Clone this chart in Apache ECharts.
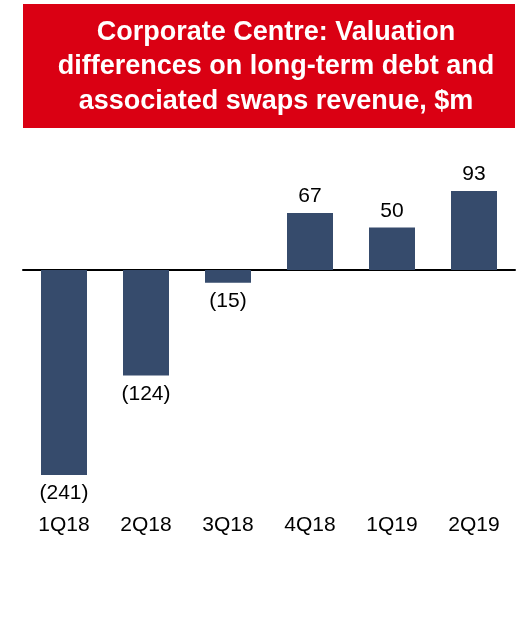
<!DOCTYPE html>
<html>
<head>
<meta charset="utf-8">
<script src="https://cdn.jsdelivr.net/npm/echarts@6/dist/echarts.min.js"></script>
<style>
  html, body { margin: 0; padding: 0; background: #fff; }
  #chart { width: 517px; height: 627px; }
</style>
</head>
<body>
<div id="chart"></div>
<script>
const TITLE = 'Corporate Centre: Valuation\ndifferences on long-term debt and\nassociated swaps revenue, $m';
const quarters = ['1Q18', '2Q18', '3Q18', '4Q18', '1Q19', '2Q19'];
const revenue = [-241, -124, -15, 67, 50, 93];

const BAR_COLOR = '#364b6c';
const RED = '#da0013';
const FONT = 'Arial, "Liberation Sans", sans-serif';

const chart = echarts.init(document.getElementById('chart'), null, { renderer: 'canvas' });

// negative values show as (x) under the bar end
const fmt = v => (v < 0 ? '(' + Math.abs(v) + ')' : String(v));

const option = {
  animation: false,
  textStyle: { fontFamily: FONT },
  graphic: [
    {
      type: 'rect',
      shape: { x: 23, y: 4, width: 492, height: 124 },
      style: { fill: RED },
      z: 0,
    },
  ],
  title: {
    text: TITLE,
    left: 271,
    top: 10,
    textAlign: 'center',
    textStyle: {
      color: '#fff',
      fontSize: 27,
      fontWeight: 'bold',
      fontFamily: FONT,
      lineHeight: 34.5,
    },
    z: 5,
  },
  grid: {
    left: 23,
    right: 2,
    top: 185,
    height: 297.7,
  },
  xAxis: [
    {
      type: 'category',
      data: quarters,
      axisLine: { show: true, onZero: true, lineStyle: { color: '#000', width: 2 } },
      axisTick: { show: false },
      axisLabel: { show: false },
    },
    {
      type: 'category',
      data: quarters,
      position: 'bottom',
      axisLine: { show: false, onZero: false },
      axisTick: { show: false },
      axisLabel: { color: '#000', fontSize: 21, margin: 32, fontFamily: FONT },
    },
  ],
  yAxis: {
    type: 'value',
    min: -250,
    max: 100,
    show: false,
    splitLine: { show: false },
  },
  series: [
    {
      type: 'bar',
      barWidth: 46,
      itemStyle: { color: BAR_COLOR },
      label: {
        show: true,
        position: 'top',
        distance: 6,
        color: '#000',
        fontSize: 21,
        fontFamily: FONT,
        formatter: p => fmt(p.value),
      },
      data: revenue.map(v => ({
        value: v,
        label: v < 0 ? { position: 'bottom', distance: 8 } : {},
      })),
    },
  ],
};

chart.setOption(option);
window.addEventListener('resize', chart.resize);
</script>
</body>
</html>
